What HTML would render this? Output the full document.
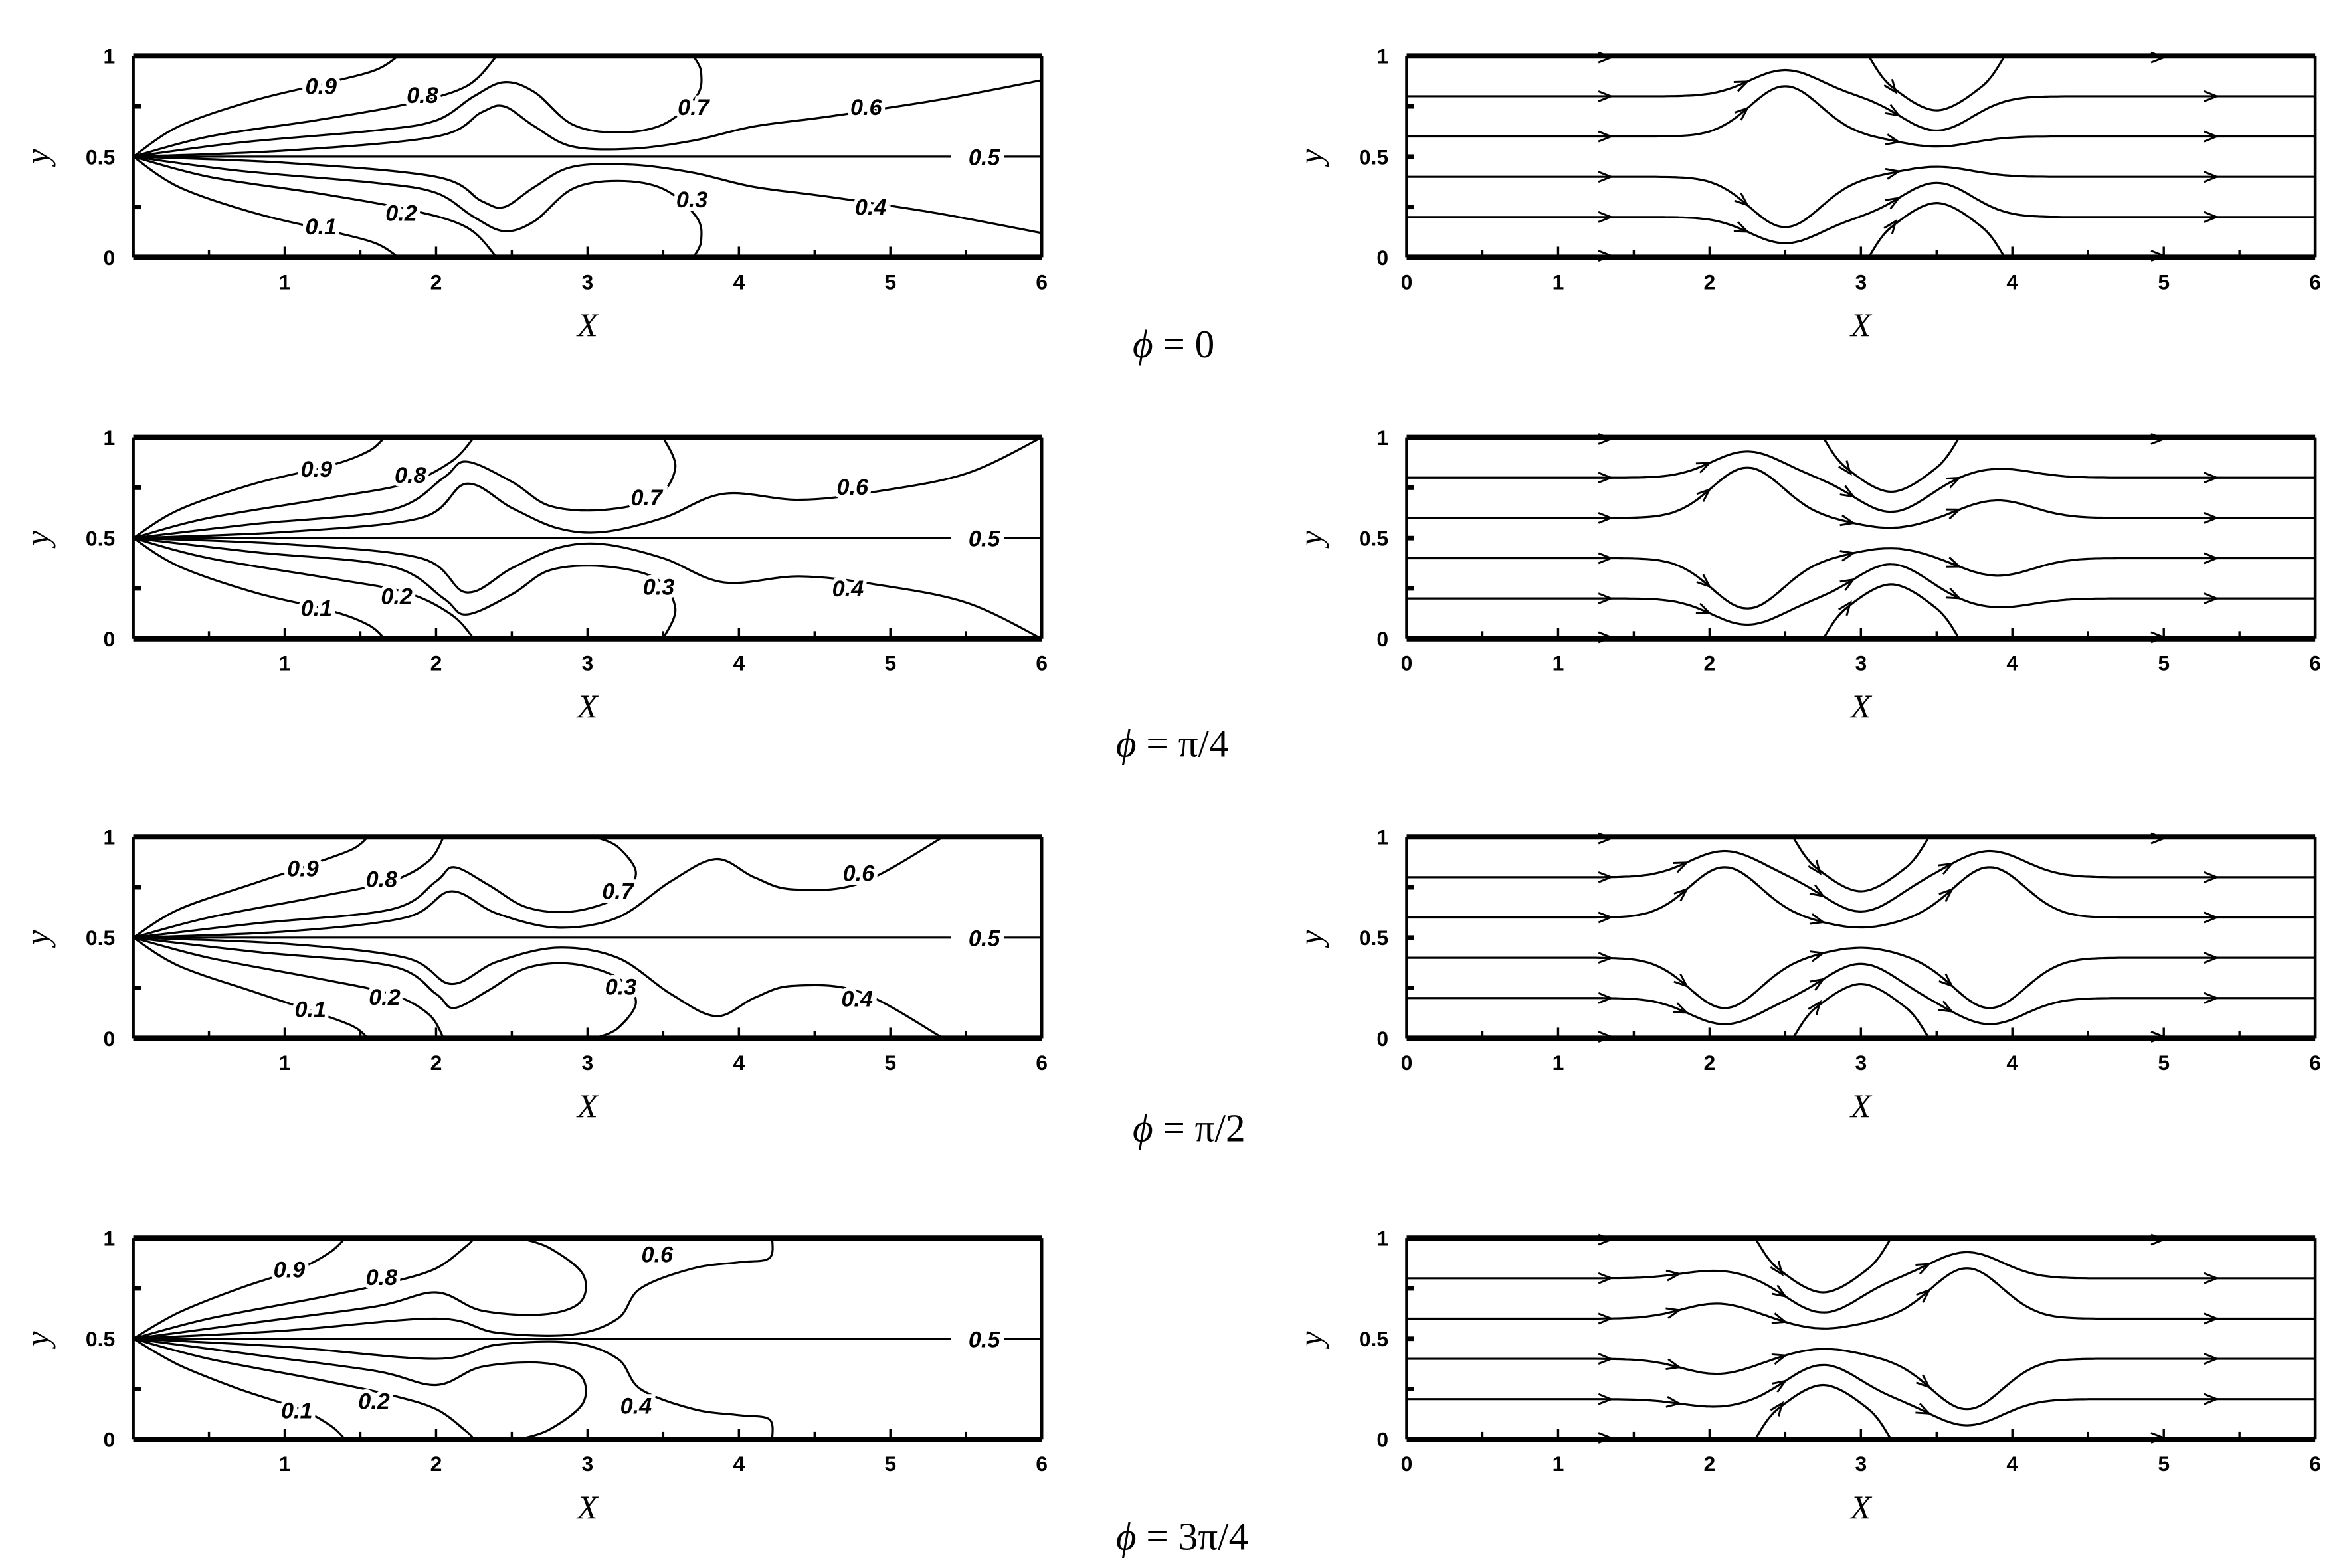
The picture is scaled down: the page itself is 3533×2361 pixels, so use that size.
<!DOCTYPE html>
<html><head><meta charset="utf-8">
<style>
html,body{margin:0;padding:0;background:#fff;}
svg{display:block;}
.tk{font-family:"Liberation Sans",sans-serif;font-weight:bold;font-size:14px;fill:#000;}
.cl{font-family:"Liberation Sans",sans-serif;font-weight:bold;font-style:italic;font-size:15px;fill:#000;stroke:#fff;stroke-width:5px;paint-order:stroke;}
.ax{font-family:"Liberation Serif",serif;font-style:italic;font-size:22px;fill:#000;}
.ph{font-family:"Liberation Serif",serif;font-size:26px;fill:#000;}
</style></head>
<body>
<svg id="s" width="3533" height="2361" viewBox="0 0 1550 1036" preserveAspectRatio="none" xmlns="http://www.w3.org/2000/svg">
<rect width="1550" height="1036" fill="#fff"/>
<g id="g"></g>
<text class="ph" x="748" y="236"><tspan font-style="italic">ϕ</tspan> = 0</text>
<text class="ph" x="737" y="500"><tspan font-style="italic">ϕ</tspan> = π/4</text>
<text class="ph" x="748" y="754"><tspan font-style="italic">ϕ</tspan> = π/2</text>
<text class="ph" x="737" y="1024"><tspan font-style="italic">ϕ</tspan> = 3π/4</text>
</svg>
<script>
const NS="http://www.w3.org/2000/svg";
const g=document.getElementById('g');
const T=[37,289,553,818],H=133,LX=88,RX=929,U=100;
let out='';
function P(x0,t,x,y){return [x0+x*U,t+(1-y)*H];}
function cr(pts){ // catmull-rom to path
  let d='M'+pts[0][0].toFixed(1)+' '+pts[0][1].toFixed(1);
  for(let i=0;i<pts.length-1;i++){
    const p0=pts[Math.max(0,i-1)],p1=pts[i],p2=pts[i+1],p3=pts[Math.min(pts.length-1,i+2)];
    const c1=[p1[0]+(p2[0]-p0[0])/6,p1[1]+(p2[1]-p0[1])/6];
    const c2=[p2[0]-(p3[0]-p1[0])/6,p2[1]-(p3[1]-p1[1])/6];
    d+=' C'+c1[0].toFixed(1)+' '+c1[1].toFixed(1)+' '+c2[0].toFixed(1)+' '+c2[1].toFixed(1)+' '+p2[0].toFixed(1)+' '+p2[1].toFixed(1);
  }
  return d;
}
function path(d,w){out+=`<path d="${d}" fill="none" stroke="#000" stroke-width="${w||1.4}"/>`;}
function frame(x0,t,zero){
  path(`M${x0} ${t}H${x0+600}`,3.5);path(`M${x0} ${t+H}H${x0+600}`,3.5);
  path(`M${x0} ${t}V${t+H}`,2);path(`M${x0+600} ${t}V${t+H}`,2);
  for(let i=1;i<12;i++){const x=x0+i*50;path(`M${x} ${t+H}V${t+H-(i%2?5:7)}`,1.5);}
  for(let k=1;k<4;k++){const y=t+H*k/4;path(`M${x0} ${y}H${x0+5}`,3);}
  out+=`<text class="tk" x="${x0-12}" y="${t+5}" text-anchor="end">1</text>`;
  out+=`<text class="tk" x="${x0-12}" y="${t+H/2+5}" text-anchor="end">0.5</text>`;
  out+=`<text class="tk" x="${x0-12}" y="${t+H+5}" text-anchor="end">0</text>`;
  for(let i=zero?0:1;i<=6;i++)out+=`<text class="tk" x="${x0+i*U}" y="${t+H+21}" text-anchor="middle">${i}</text>`;
  out+=`<text class="ax" x="${x0+300}" y="${t+H+52}" text-anchor="middle">X</text>`;
  out+=`<text class="ax" transform="translate(${x0-56},${t+H/2}) rotate(-90)" text-anchor="middle">y</text>`;
}
// contour data (upper levels); lower mirrored
const C=[
 {u:[
  [[0,.5],[.3,.65],[.8,.78],[1.3,.87],[1.6,.93],[1.75,1]],
  [[0,.5],[.5,.6],[1.2,.68],[1.8,.76],[2.2,.85],[2.4,1]],
  [[0,.5],[.7,.57],[1.6,.63],[2,.68],[2.25,.8],[2.45,.87],[2.65,.82],[2.9,.66],[3.2,.62],[3.5,.66],[3.72,.8],[3.75,.92],[3.7,1]],
  [[0,.5],[1,.53],[2,.6],[2.3,.72],[2.45,.75],[2.65,.65],[2.9,.55],[3.3,.54],[3.7,.58],[4.1,.65],[4.6,.7],[5.3,.78],[6,.88]]],
  lab:[[212,62,'0.9'],[279,68,'0.8'],[458,76,'0.7'],[572,76,'0.6'],[650,109,'0.5'],[575,142,'0.4'],[457,137,'0.3'],[265,146,'0.2'],[212,155,'0.1']]},
 {u:[
  [[0,.5],[.3,.64],[.8,.77],[1.3,.86],[1.55,.93],[1.66,1]],
  [[0,.5],[.5,.6],[1.3,.7],[1.8,.77],[2.1,.88],[2.25,1]],
  [[0,.5],[.8,.57],[1.7,.64],[2.05,.8],[2.2,.88],[2.5,.78],[2.75,.66],[3.1,.64],[3.45,.7],[3.58,.85],[3.5,1]],
  [[0,.5],[1,.53],[1.9,.6],[2.2,.77],[2.5,.65],[2.8,.55],[3.1,.53],[3.5,.6],[3.9,.72],[4.4,.69],[4.9,.73],[5.5,.82],[6,1]]],
  lab:[[209,315,'0.9'],[271,319,'0.8'],[427,334,'0.7'],[563,327,'0.6'],[650,361,'0.5'],[560,394,'0.4'],[435,393,'0.3'],[262,399,'0.2'],[209,407,'0.1']]},
 {u:[
  [[0,.5],[.3,.64],[.8,.77],[1.2,.87],[1.45,.94],[1.55,1]],
  [[0,.5],[.5,.6],[1.2,.7],[1.7,.78],[1.95,.88],[2.05,1]],
  [[0,.5],[.8,.57],[1.7,.64],[2.0,.78],[2.12,.85],[2.35,.76],[2.6,.65],[2.9,.63],[3.2,.7],[3.32,.82],[3.2,.95],[3.05,1]],
  [[0,.5],[1,.53],[1.8,.6],[2.1,.73],[2.4,.62],[2.8,.55],[3.2,.6],[3.55,.78],[3.85,.89],[4.1,.8],[4.35,.74],[4.8,.77],[5.35,1]]],
  lab:[[200,579,'0.9'],[252,586,'0.8'],[408,594,'0.7'],[567,582,'0.6'],[650,625,'0.5'],[566,665,'0.4'],[410,657,'0.3'],[254,664,'0.2'],[205,672,'0.1']]},
 {u:[
  [[0,.5],[.3,.63],[.7,.75],[1.1,.85],[1.3,.93],[1.4,1]],
  [[0,.5],[.5,.6],[1.2,.7],[1.7,.78],[2.0,.85],[2.2,.96],[2.25,1]],
  [[0,.5],[.8,.58],[1.6,.66],[2.0,.73],[2.3,.64],[2.7,.62],[2.95,.68],[2.97,.82],[2.75,.95],[2.55,1]],
  [[0,.5],[1,.54],[2.0,.6],[2.4,.53],[2.9,.52],[3.2,.6],[3.35,.75],[3.7,.85],[4.0,.88],[4.2,.9],[4.22,1]]],
  lab:[[191,844,'0.9'],[252,849,'0.8'],[434,834,'0.6'],[650,890,'0.5'],[420,934,'0.4'],[247,931,'0.2'],[196,937,'0.1']]}
];
// streamline features: [xc, type(1=U,-1=D), scale]
const F=[[[2.5,1,1],[3.5,-1,1]],[[2.25,1,1],[3.2,-1,1],[3.9,1,.35]],[[2.1,1,1],[3.0,-1,1],[3.85,1,1]],[[2.05,1,.3],[2.75,-1,1],[3.7,1,1]]];
function sy(y0,feats,x){
  let y=y0;const up=y0>.5;
  for(const [xc,tp,s] of feats){
    const G=Math.exp(-Math.pow((x-xc)/0.33,2));
    let a;
    if(tp==1){a=(Math.abs(y0-.5)>.2)?.13:.25;}else{a=(Math.abs(y0-.5)>.2)?-.17:-.05;}
    a*=s; y+= (up?a:-a)*G;
  }
  return y;
}
function arrow(x,y,ang){
  const L=9,s=0.38;
  const a1=ang+Math.PI-s,a2=ang+Math.PI+s;
  path(`M${(x+L*Math.cos(a1)).toFixed(1)} ${(y+L*Math.sin(a1)).toFixed(1)}L${x.toFixed(1)} ${y.toFixed(1)}L${(x+L*Math.cos(a2)).toFixed(1)} ${(y+L*Math.sin(a2)).toFixed(1)}`,1.3);
}
for(let r=0;r<4;r++){
  const t=T[r];
  frame(LX,t,false);frame(RX,t,true);
  // contours
  const c=C[r];
  path(`M${LX} ${t+H/2}H${LX+540}M${LX+575} ${t+H/2}H${LX+600}`,1.4);
  for(const pts of c.u){
    path(cr(pts.map(p=>P(LX,t,p[0],p[1]))));
    path(cr(pts.map(p=>P(LX,t,p[0],1-p[1]))));
  }
  for(const [x,y,s] of c.lab)out+=`<text class="cl" x="${x}" y="${y}" text-anchor="middle">${s}</text>`;
  // streamlines
  const feats=F[r];
  for(const y0 of [.8,.6,.4,.2]){
    const pts=[];for(let x=0;x<=6.001;x+=0.05)pts.push(P(RX,t,x,sy(y0,feats,x)));
    path(cr(pts));
    const ax=[1.35,5.35];
    for(const [xc] of feats)ax.push(xc-0.25);
    for(const xa of ax){
      const p1=P(RX,t,xa,sy(y0,feats,xa)),p0=P(RX,t,xa-0.02,sy(y0,feats,xa-0.02));
      arrow(p1[0],p1[1],Math.atan2(p1[1]-p0[1],p1[0]-p0[0]));
    }
  }
  // recirculation loops
  for(const [xc,tp,s] of feats){
    if(tp!=-1)continue;
    const top=[[xc-.45,1],[xc-.3,.85],[xc,.73],[xc+.3,.85],[xc+.45,1]];
    const bot=top.map(p=>[p[0],1-p[1]]);
    path(cr(top.map(p=>P(RX,t,p[0],p[1]))));
    path(cr(bot.map(p=>P(RX,t,p[0],p[1]))));
    let a=P(RX,t,xc-.27,.82),b=P(RX,t,xc-.3,.85);arrow(a[0],a[1],Math.atan2(a[1]-b[1],a[0]-b[0]));
    a=P(RX,t,xc-.27,.18);b=P(RX,t,xc-.3,.15);arrow(a[0],a[1],Math.atan2(a[1]-b[1],a[0]-b[0]));
  }
  // wall arrows
  for(const xa of [1.35,5.0]){let p=P(RX,t,xa,1);arrow(p[0],p[1]+1,0);p=P(RX,t,xa,0);arrow(p[0],p[1]-1,0);}
}
g.innerHTML=out;
</script>
</body></html>
